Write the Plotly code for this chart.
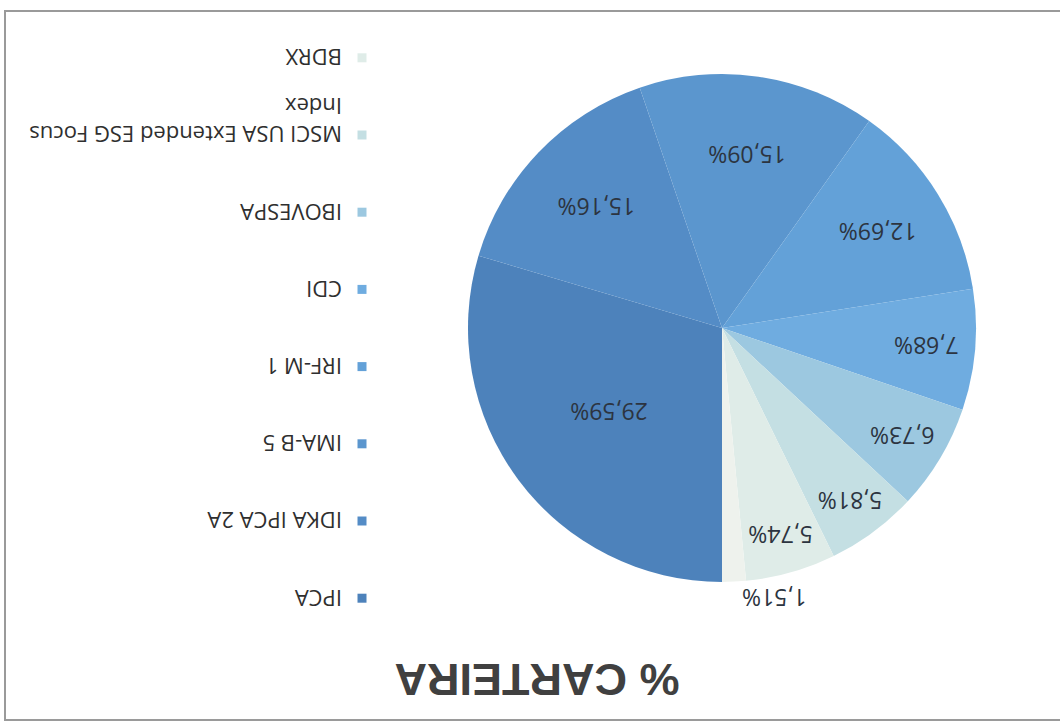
import plotly.graph_objects as go

categories = ["IPCA", "IDKA IPCA 2A", "IMA-B 5", "IRF-M 1", "CDI", "IBOVESPA",
              "MSCI USA Extended ESG Focus<br>Index", "BDRX", "Outros"]
values = [29.59, 15.16, 15.09, 12.69, 7.68, 6.73, 5.81, 5.74, 1.51]
colors = ["#4d82bb", "#548cc6", "#5b96ce", "#63a1d8", "#6face0", "#9cc8e0",
          "#c4dfe3", "#dfece8", "#eef2ed"]
legend_count = 8  # last slice is not listed in the legend

W, H = 1060, 727
cx, cy, r = 338, 399, 254  # pie centre / radius in pixels (upright)

fig = go.Figure()
fig.add_trace(go.Pie(
    labels=categories, values=values, sort=False, direction="clockwise", rotation=0,
    marker=dict(colors=colors, line=dict(width=0)),
    texttemplate="%{value:.2f}%",
    textposition=["inside"] * (len(values) - 1) + ["outside"],
    insidetextorientation="horizontal",
    textfont=dict(family="Open Sans", size=23, color="#2c3440"),
    showlegend=False, automargin=False,
    domain=dict(x=[(cx - r) / W, (cx + r) / W], y=[(H - cy - r) / H, (H - cy + r) / H]),
    hoverinfo="label+percent",
))
for name, col in zip(categories[:legend_count], colors[:legend_count]):
    shown = name if "<br>" in name else name + "<br> "  # equal two-line legend slots
    fig.add_trace(go.Scatter(
        x=[None], y=[None], mode="markers", name=shown, legendgroup=name,
        marker=dict(symbol="square", size=9, color=col), hoverinfo="skip",
    ))

fig.update_layout(
    width=W, height=H, margin=dict(l=0, r=0, t=0, b=0),
    paper_bgcolor="white", plot_bgcolor="white",
    separators=",.",
    xaxis=dict(visible=False), yaxis=dict(visible=False),
    title=dict(text="<b>% CARTEIRA</b>", x=523 / W, y=1 - 47 / H, xref="paper", yref="paper",
               xanchor="center", yanchor="middle",
               font=dict(family="Liberation Sans", size=45, color="#404040")),
    legend=dict(x=678 / W, y=1 - 108 / H, xanchor="left", yanchor="top",
                font=dict(family="Open Sans", size=22, color="#2f2f2f"),
                tracegroupgap=17, valign="top", bgcolor="rgba(0,0,0,0)"),
    shapes=[dict(type="rect", xref="paper", yref="paper", x0=-0.02, x1=1055 / W,
                 y0=11 / H, y1=1 - 7 / H, line=dict(color="#9a9a9a", width=2))],
)

post = ("document.body.style.margin='0';document.body.style.overflow='hidden';"
        "var d=document.getElementById('{plot_id}');d.style.transform='rotate(180deg)';"
        "d.style.transformOrigin='50% 50%';")
fig.write_html("out.html", post_script=post, config={"displayModeBar": False})
